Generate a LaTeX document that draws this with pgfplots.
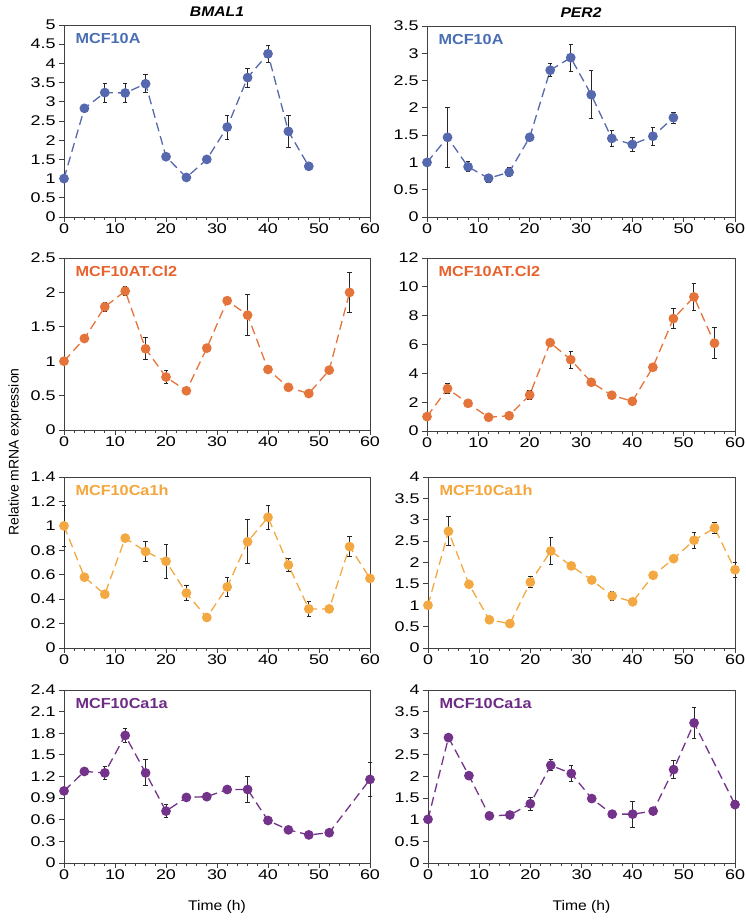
\documentclass[border=0pt]{standalone}
\usepackage{fontspec}
\setmainfont{Liberation Sans}
\newfontfamily\tickfont{Liberation Sans}[FakeStretch=1.28]
\newfontfamily\labfont{Liberation Sans}[FakeStretch=1.12]
\usepackage{pgfplots}
\pgfplotsset{compat=1.18}

\definecolor{cA}{HTML}{5668AE}
\definecolor{cB}{HTML}{E5743A}
\definecolor{cC}{HTML}{F4A842}
\definecolor{cD}{HTML}{74338A}
\definecolor{tA}{HTML}{4A6EB5}
\definecolor{tB}{HTML}{E8622E}
\definecolor{tC}{HTML}{F4A63C}
\definecolor{tD}{HTML}{6E2B84}

\pgfplotsset{
  panel/.style={
    scale only axis, anchor=south west,
    xmin=0, xmax=60, xtick={0,10,...,60}, minor x tick num=4,
    tick align=outside, xtick pos=bottom, ytick pos=left,
    major tick length=5pt, minor tick length=3pt,
    axis line style={black!75, line width=0.8pt},
    every tick/.style={black!75, line width=0.8pt},
    tick label style={font=\tickfont\fontsize{14}{16}\selectfont},
    xticklabel style={yshift=1.5pt},
    /pgf/number format/assume math mode=true,
    clip=false,
  },
  ser/.style={color=#1, line width=1.3pt, dash pattern=on 9pt off 5pt,
    mark=*, mark size=4.2pt, mark options={solid, fill=#1, draw=#1}},
  eb/.style={draw=none, forget plot, mark=none,
    error bars/.cd, y dir=both, y explicit,
    error bar style={draw=black!85, solid, line width=0.9pt},
    error mark options={rotate=90, draw=black!85, solid, mark size=2.2pt, line width=0.9pt}},
}
\tikzset{
  lab/.style={anchor=base west, font=\labfont\bfseries\fontsize{14.5}{16}\selectfont, text=#1,
    xshift=8pt, yshift=-18pt},
  ttl/.style={anchor=base, font=\labfont\bfseries\itshape\fontsize{14}{16}\selectfont, yshift=9pt},
  tim/.style={anchor=base, font=\labfont\fontsize{14}{16}\selectfont, yshift=-47pt},
}

\begin{document}
\begin{tikzpicture}
\path[use as bounding box] (0,0) rectangle (746pt,-920pt);

%% row 1
\begin{axis}[panel, at={(64pt,-217pt)}, width=306pt, height=192pt,
  ymin=0, ymax=5, ytick={0,0.5,1,1.5,2,2.5,3,3.5,4,4.5,5}]
\addplot[ser=cA] coordinates {(0,1.0)(4,2.83)(8,3.24)(12,3.23)(16,3.47)(20,1.57)(24,1.03)(28,1.50)(32,2.34)(36,3.63)(40,4.25)(44,2.23)(48,1.32)};
\addplot[eb] coordinates {(8,3.24)+-(0,0.25)(12,3.23)+-(0,0.25)(16,3.47)+-(0,0.23)(24,1.03)+-(0,0.08)(32,2.34)+-(0,0.31)(36,3.63)+-(0,0.25)(40,4.25)+-(0,0.23)(44,2.23)+-(0,0.41)};
\node[lab=tA] at (rel axis cs:0,1) {MCF10A};
\node[ttl] at (rel axis cs:0.5,1) {BMAL1};
\end{axis}

\begin{axis}[panel, at={(427pt,-217pt)}, width=308pt, height=191pt,
  ymin=0, ymax=3.5, ytick={0,0.5,1,1.5,2,2.5,3,3.5}]
\addplot[ser=cA] coordinates {(0,1.0)(4,1.46)(8,0.92)(12,0.71)(16,0.82)(20,1.46)(24,2.69)(28,2.92)(32,2.24)(36,1.44)(40,1.33)(44,1.48)(48,1.82)};
\addplot[eb] coordinates {(4,1.46)+-(0,0.55)(8,0.92)+-(0,0.09)(12,0.71)+-(0,0.07)(16,0.82)+-(0,0.08)(24,2.69)+-(0,0.12)(28,2.92)+-(0,0.25)(32,2.24)+-(0,0.44)(36,1.44)+-(0,0.14)(40,1.33)+-(0,0.13)(44,1.48)+-(0,0.16)(48,1.82)+-(0,0.1)};
\node[lab=tA] at (rel axis cs:0,1) {MCF10A};
\node[ttl] at (rel axis cs:0.5,1) {PER2};
\end{axis}

%% row 2
\begin{axis}[panel, at={(64pt,-430pt)}, width=306pt, height=172pt,
  ymin=0, ymax=2.5, ytick={0,0.5,1,1.5,2,2.5}]
\addplot[ser=cB] coordinates {(0,1.0)(4,1.33)(8,1.79)(12,2.02)(16,1.18)(20,0.77)(24,0.57)(28,1.19)(32,1.88)(36,1.67)(40,0.88)(44,0.62)(48,0.53)(52,0.87)(56,2.0)};
\addplot[eb] coordinates {(4,1.33)+-(0,0.05)(8,1.79)+-(0,0.06)(12,2.02)+-(0,0.07)(16,1.18)+-(0,0.16)(20,0.77)+-(0,0.09)(36,1.67)+-(0,0.3)(56,2.0)+-(0,0.29)};
\node[lab=tB] at (rel axis cs:0,1) {MCF10AT.Cl2};
\end{axis}

\begin{axis}[panel, at={(427pt,-431pt)}, width=308pt, height=173pt,
  ymin=0, ymax=12, ytick={0,2,4,6,8,10,12}]
\addplot[ser=cB] coordinates {(0,1.0)(4,2.94)(8,1.92)(12,0.95)(16,1.06)(20,2.5)(24,6.13)(28,4.95)(32,3.38)(36,2.48)(40,2.06)(44,4.42)(48,7.8)(52,9.3)(56,6.09)};
\addplot[eb] coordinates {(4,2.94)+-(0,0.35)(20,2.5)+-(0,0.3)(28,4.95)+-(0,0.58)(36,2.48)+-(0,0.25)(48,7.8)+-(0,0.72)(52,9.3)+-(0,0.96)(56,6.09)+-(0,1.08)};
\node[lab=tB] at (rel axis cs:0,1) {MCF10AT.Cl2};
\end{axis}

%% row 3
\begin{axis}[panel, at={(64pt,-648pt)}, width=306pt, height=171pt,
  ymin=0, ymax=1.4, ytick={0,0.2,0.4,0.6,0.8,1,1.2,1.4}]
\addplot[ser=cC] coordinates {(0,1.0)(4,0.58)(8,0.44)(12,0.90)(16,0.79)(20,0.71)(24,0.45)(28,0.25)(32,0.50)(36,0.87)(40,1.07)(44,0.68)(48,0.32)(52,0.32)(56,0.83)(60,0.57)};
\addplot[eb] coordinates {(0,1.0)+-(0,0.17)(16,0.79)+-(0,0.085)(20,0.71)+-(0,0.14)(24,0.45)+-(0,0.06)(32,0.50)+-(0,0.08)(36,0.87)+-(0,0.18)(40,1.07)+-(0,0.1)(44,0.68)+-(0,0.05)(48,0.32)+-(0,0.06)(52,0.32)+-(0,0.03)(56,0.83)+-(0,0.08)};
\node[lab=tC] at (rel axis cs:0,1) {MCF10Ca1h};
\end{axis}

\begin{axis}[panel, at={(428pt,-648pt)}, width=307pt, height=171pt,
  ymin=0, ymax=4, ytick={0,0.5,1,1.5,2,2.5,3,3.5,4}]
\addplot[ser=cC] coordinates {(0,1.0)(4,2.73)(8,1.49)(12,0.66)(16,0.57)(20,1.54)(24,2.27)(28,1.92)(32,1.59)(36,1.22)(40,1.08)(44,1.70)(48,2.09)(52,2.52)(56,2.81)(60,1.83)};
\addplot[eb] coordinates {(4,2.73)+-(0,0.34)(20,1.54)+-(0,0.13)(24,2.27)+-(0,0.31)(28,1.92)+-(0,0.06)(36,1.22)+-(0,0.1)(44,1.70)+-(0,0.08)(48,2.09)+-(0,0.06)(52,2.52)+-(0,0.19)(56,2.81)+-(0,0.13)(60,1.83)+-(0,0.18)};
\node[lab=tC] at (rel axis cs:0,1) {MCF10Ca1h};
\end{axis}

%% row 4
\begin{axis}[panel, at={(64pt,-863pt)}, width=306pt, height=173pt,
  ymin=0, ymax=2.4, ytick={0,0.3,0.6,0.9,1.2,1.5,1.8,2.1,2.4}]
\addplot[ser=cD] coordinates {(0,1.0)(4,1.27)(8,1.25)(12,1.77)(16,1.25)(20,0.72)(24,0.91)(28,0.92)(32,1.02)(36,1.02)(40,0.59)(44,0.46)(48,0.39)(52,0.42)(60,1.16)};
\addplot[eb] coordinates {(0,1.0)+-(0,0.05)(8,1.25)+-(0,0.09)(12,1.77)+-(0,0.095)(16,1.25)+-(0,0.18)(20,0.72)+-(0,0.09)(36,1.02)+-(0,0.18)(60,1.16)+-(0,0.23)};
\node[lab=tD] at (rel axis cs:0,1) {MCF10Ca1a};
\node[tim] at (rel axis cs:0.5,0) {Time (h)};
\end{axis}

\begin{axis}[panel, at={(428pt,-863pt)}, width=307pt, height=173pt,
  ymin=0, ymax=4, ytick={0,0.5,1,1.5,2,2.5,3,3.5,4}]
\addplot[ser=cD] coordinates {(0,1.01)(4,2.90)(8,2.02)(12,1.09)(16,1.11)(20,1.37)(24,2.26)(28,2.07)(32,1.49)(36,1.13)(40,1.13)(44,1.2)(48,2.16)(52,3.24)(60,1.35)};
\addplot[eb] coordinates {(4,2.90)+-(0,0.05)(20,1.37)+-(0,0.15)(24,2.26)+-(0,0.13)(28,2.07)+-(0,0.18)(40,1.13)+-(0,0.3)(44,1.2)+-(0,0.07)(48,2.16)+-(0,0.2)(52,3.24)+-(0,0.36)(60,1.35)+-(0,0.1)};
\node[lab=tD] at (rel axis cs:0,1) {MCF10Ca1a};
\node[tim] at (rel axis cs:0.5,0) {Time (h)};
\end{axis}

\node[rotate=90, font=\fontsize{14}{16}\selectfont] at (15pt,-452pt) {Relative mRNA expression};
\end{tikzpicture}
\end{document}
